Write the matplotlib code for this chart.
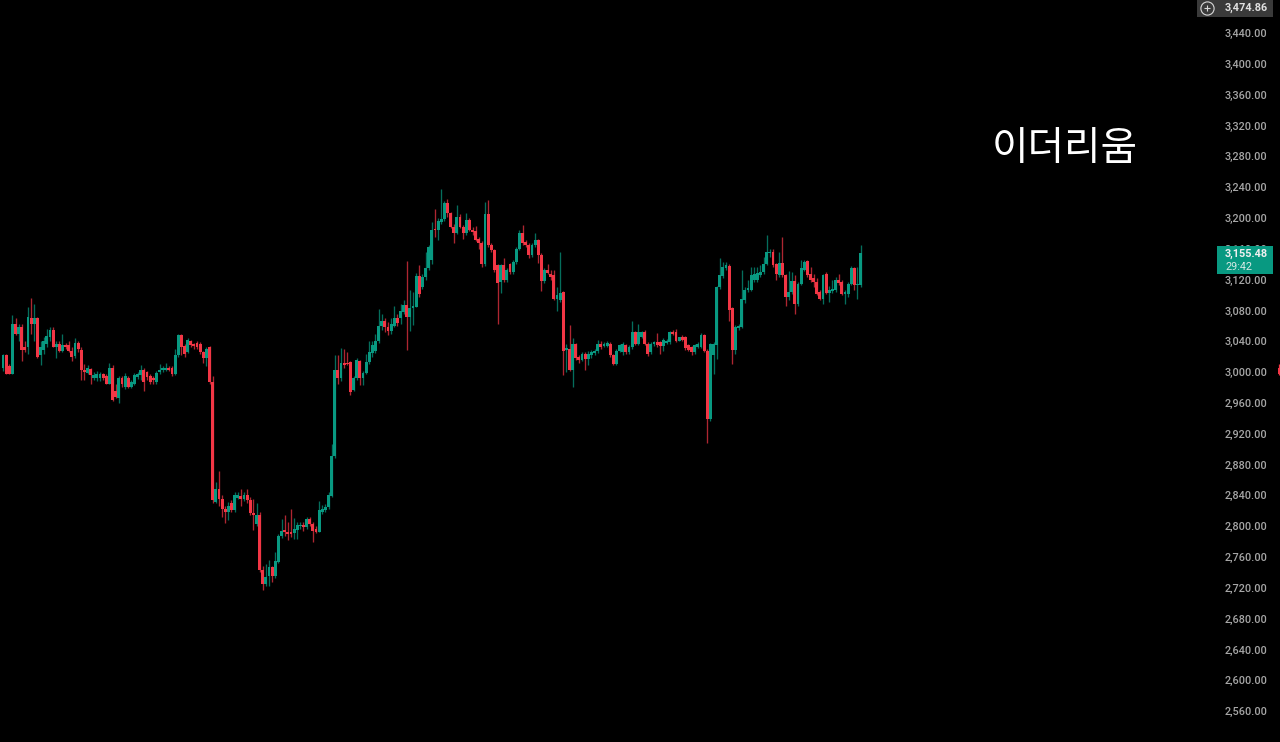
import matplotlib
matplotlib.use("Agg")
import matplotlib.pyplot as plt
from matplotlib.patches import Rectangle

title = "이더리움"
up_color = "#089981"
down_color = "#F23645"

opens = [
 3005,3022,3008,2998,3063,3050,3058,3033,3033,3070,
 3063,3070,3022,3029,3037,3046,3055,3033,3037,3028,
 3035,3035,3028,3021,3038,3029,3003,2999,3004,2993,
 2992,2993,2997,2995,2985,3005,2975,2967,2992,2981,
 2992,2981,2985,2994,2996,3003,3000,2995,2992,2987,
 3000,3003,3003,3006,3006,2998,3022,3048,3034,3026,
 3041,3036,3038,3037,3026,3018,3032,
 2987,2832,2848,2836,2823,2819,2830,2821,2837,2839,
 2836,2840,2834,2817,2803,2815,2743,2725,2735,2747,
 2736,2754,2788,2795,2793,2792,2791,2795,2800,2802,
 2799,2810,2803,2797,2793,2819,2821,2825,2839,2891,
 3003,2992,3012,3012,3013,2977,2992,3014,2992,2999,
 3013,3025,3027,
 3041,3060,3066,3058,3053,3060,3070,
 3070,3078,3087,3072,3083,3085,3125,3110,3124,3135,
 3145,3186,3185,3195,3199,3219,3206,3189,3181,3202,
 3189,3181,3197,3185,3183,3173,3167,3141,3205,3165,
 3158,3139,3117,3139,3119,3140,3130,3143,3160,3180,
 3169,3165,3152,3165,3171,3152,3118,3132,3128,3126,
 3095,3093,3104,3029,3030,3003,3036,3020,3016,3024,
 3017,3022,3025,3027,3037,3034,3034,3037,3022,3011,
 3028,3026,
 3035,3026,3032,3052,3037,3046,3052,3037,3026,3036,
 3039,3039,3034,3038,3039,3052,3052,3041,3046,3046,
 3035,3033,3026,3033,3033,3048,3028,2939,3022,3035,
 3110,3125,3135,3138,3083,3029,3057,3059,3093,3106,
 3107,3119,3119,3126,3130,3141,3154,3156,3140,3126,
 3142,3126,3098,3104,3118,3088,3115,3133,3144,3128,
 3122,3117,3104,3095,3127,3103,3105,3106,3120,3117,
 3102,3102,3115,3135,3113,3113,
]
highs = [
 3024,3024,3010,3074,3070,3062,3062,3040,3085,3096,
 3089,3071,3040,3045,3056,3058,3058,3040,3040,3050,
 3038,3040,3032,3044,3040,3033,3010,3009,3006,3000,
 3001,3000,2999,2997,3012,3009,2985,2995,2995,2999,
 2995,2990,2999,3000,3009,3006,3001,2997,2995,3001,
 3010,3008,3012,3008,3008,3030,3050,3050,3036,3044,
 3042,3038,3040,3039,3028,3033,3034,
 2995,2858,2872,2840,2826,2832,2834,2845,2845,2849,
 2845,2848,2838,2836,2830,2818,2748,2751,2756,2749,
 2767,2790,2810,2814,2806,2822,2811,2805,2806,2806,
 2812,2812,2805,2800,2833,2827,2829,2844,2907,3022,
 3022,3031,3030,3026,3014,2995,3018,3016,3001,3024,
 3041,3041,3050,
 3082,3075,3070,3065,3070,3086,3075,
 3088,3093,3144,3107,3104,3129,3139,3127,3156,3165,
 3195,3212,3200,3238,3222,3225,3208,3192,3217,3205,
 3191,3206,3200,3188,3190,3175,3170,3221,3223,3168,
 3160,3141,3141,3148,3135,3142,3146,3163,3185,3191,
 3172,3167,3168,3180,3173,3154,3135,3140,3133,3133,
 3110,3156,3105,3037,3061,3044,3038,3022,3026,3026,
 3027,3029,3030,3042,3040,3039,3041,3039,3024,3030,
 3037,3039,
 3037,3035,3067,3054,3063,3054,3055,3039,3039,3041,
 3051,3041,3044,3043,3054,3055,3056,3046,3048,3047,
 3036,3034,3037,3039,3051,3050,3030,3038,3039,3112,
 3148,3143,3143,3140,3085,3061,3062,3132,3110,3119,
 3137,3137,3137,3139,3150,3178,3160,3160,3142,3156,
 3176,3128,3131,3130,3126,3117,3145,3145,3146,3136,
 3128,3122,3106,3128,3130,3112,3119,3124,3128,3119,
 3107,3117,3138,3137,3137,3165,
]
lows = [
 3001,2998,2997,2997,3048,3040,3015,3026,3024,3050,
 3040,3019,3009,3024,3033,3040,3032,3018,3026,3026,
 3030,3026,3015,3018,3026,2990,2990,2997,2985,2990,
 2988,2989,2990,2984,2984,2962,2966,2960,2981,2978,
 2979,2979,2983,2991,2990,2975,2990,2984,2985,2985,
 2997,3000,3002,3002,2995,2996,3020,3022,3020,3025,
 3032,3030,3030,3024,3012,3008,2985,
 2830,2830,2826,2812,2804,2808,2818,2819,2835,2826,
 2833,2830,2815,2795,2800,2740,2717,2722,2722,2728,
 2733,2752,2785,2788,2782,2786,2783,2783,2797,2794,
 2797,2800,2779,2791,2792,2816,2818,2823,2838,2889,
 2985,2989,3006,3009,2970,2975,2990,2983,2983,2997,
 3011,3020,3025,
 3038,3055,3052,3048,3050,3058,3060,
 3063,3075,3029,3054,3061,3084,3097,3108,3120,3132,
 3140,3175,3172,3192,3196,3202,3187,3168,3179,3187,
 3173,3178,3183,3178,3170,3160,3137,3138,3163,3156,
 3130,3063,3103,3117,3117,3128,3128,3141,3158,3165,
 3163,3148,3150,3163,3142,3105,3116,3127,3120,3093,
 3080,3091,2996,3000,3001,2981,3016,3012,3014,3003,
 3009,3018,3022,3025,3030,3032,3032,3020,3009,3009,
 3026,3022,
 3024,3024,3030,3035,3035,3044,3035,3021,3024,3034,
 3033,3024,3027,3036,3037,3048,3039,3040,3040,3029,
 3027,3022,3024,3031,3031,3026,2908,2937,2998,3017,
 3108,3122,3133,3067,3011,3024,3055,3057,3090,3104,
 3105,3117,3117,3123,3128,3139,3150,3137,3120,3124,
 3124,3086,3093,3102,3076,3086,3113,3131,3124,3117,
 3110,3100,3093,3089,3101,3091,3103,3104,3113,3100,
 3089,3097,3113,3106,3095,3111,
]
closes = [
 3022,2998,2998,3063,3050,3058,3029,3029,3072,3063,
 3070,3020,3033,3041,3047,3055,3033,3037,3028,3035,
 3033,3028,3020,3038,3030,3003,3000,3006,2996,2996,
 2997,2997,2993,2985,3005,2964,2968,2993,2985,2995,
 2981,2987,2996,2998,3003,2987,2994,2987,2990,2999,
 3003,3005,3005,3003,2998,3022,3048,3033,3024,3042,
 3035,3034,3033,3026,3018,3030,2987,
 2834,2848,2836,2823,2819,2826,2821,2840,2840,2836,
 2841,2834,2817,2815,2815,2743,2725,2734,2747,2736,
 2755,2788,2794,2792,2790,2790,2797,2801,2801,2799,
 2810,2803,2794,2793,2821,2823,2825,2840,2891,3003,
 2992,3012,3009,3011,2974,2992,3016,2992,2999,3013,
 3026,3035,3041,
 3060,3066,3058,3053,3062,3070,3064,
 3080,3087,3072,3083,3086,3125,3102,3124,3135,3162,
 3185,3184,3196,3199,3219,3206,3189,3181,3202,3189,
 3180,3197,3185,3182,3172,3167,3141,3205,3165,3158,
 3132,3116,3139,3119,3132,3130,3143,3160,3180,3167,
 3165,3152,3165,3171,3152,3118,3132,3129,3124,3095,
 3100,3103,3028,3031,3003,3036,3018,3016,3023,3017,
 3024,3026,3028,3037,3033,3037,3038,3022,3011,3028,
 3035,3037,
 3026,3033,3052,3037,3052,3052,3037,3023,3037,3039,
 3035,3034,3042,3041,3052,3050,3041,3045,3042,3031,
 3029,3026,3035,3037,3048,3028,2939,3037,3037,3110,
 3126,3137,3139,3081,3029,3059,3060,3095,3107,3109,
 3126,3127,3129,3130,3141,3156,3156,3139,3128,3142,
 3126,3098,3104,3118,3089,3115,3135,3143,3126,3119,
 3117,3102,3095,3126,3103,3106,3108,3120,3116,3102,
 3104,3115,3135,3113,3115,3155,
]

tick_values = list(range(2560, 3441, 40))
last_price = 3155.48
countdown = "29:42"
top_price = 3474.86
edge_open, edge_high, edge_low, edge_close = [3005], [3010], [2996], [2998]

WIDTH, HEIGHT = 1280, 742
SPACING = 3.13
FIRST_PX = 3.0

fig = plt.figure(figsize=(WIDTH / 100, HEIGHT / 100), dpi=100, facecolor="black")
ax = fig.add_axes([0, 0, 1, 1], facecolor="black")

n = len(opens)
xs = list(range(n))
cols = [up_color if c >= o else down_color for o, c in zip(opens, closes)]
ax.vlines(xs, lows, highs, colors=cols, linewidth=0.95, alpha=0.72, zorder=2)
ax.bar(xs, [abs(c - o) for o, c in zip(opens, closes)],
       bottom=[min(o, c) for o, c in zip(opens, closes)],
       width=0.92, color=cols, linewidth=0, zorder=2.2)

# candle at the right edge of the frame
edge_x = [407.7]
ax.vlines(edge_x, edge_low, edge_high, colors=down_color, linewidth=0.9, zorder=2)
ax.bar(edge_x, [o - c for o, c in zip(edge_open, edge_close)], bottom=edge_close,
       width=0.92, color=down_color, linewidth=0, zorder=2.2)

ax.set_xlim(-FIRST_PX / SPACING, (WIDTH - FIRST_PX) / SPACING)
ax.set_ylim(2520.0, 3483.0)

for s in ax.spines.values():
    s.set_visible(False)
ax.set_xticks([])
ax.set_yticks(tick_values)
ax.set_yticklabels([f"{v:,.2f}" for v in tick_values], fontsize=7.8, family="Roboto",
                   fontweight="medium", color="#a6a6a6", ha="left")
ax.yaxis.tick_right()
ax.tick_params(axis="y", length=0, pad=-39.8)


def px(x, y):
    return x / WIDTH, 1 - y / HEIGHT


def box(x0, y0, x1, y1, color):
    ax.add_patch(Rectangle(px(x0, y1), (x1 - x0) / WIDTH, (y1 - y0) / HEIGHT,
                           transform=ax.transAxes, facecolor=color, edgecolor="none",
                           zorder=5, clip_on=False))


# top price badge
box(1197, 0, 1273, 17, "#3a3a3a")
ax.plot(*px(1207, 7.5), transform=ax.transAxes, marker="o", ms=9.5, mfc="none",
        mec="#d8d8d8", mew=0.8, zorder=6)
ax.plot(*px(1207, 7.5), transform=ax.transAxes, marker="+", ms=5, mec="#d8d8d8",
        mew=0.8, zorder=6)
ax.text(*px(1225, 7.5), f"{top_price:,.2f}", transform=ax.transAxes, fontsize=7.8,
        family="Roboto", fontweight="bold", color="#e0e0e0", va="center", ha="left", zorder=6)

# last price badge
box(1217, 246.5, 1273, 274.5, up_color)
ax.text(*px(1225, 254), f"{last_price:,.2f}", transform=ax.transAxes, fontsize=7.8,
        family="Roboto", fontweight="bold", color="#f0f0f0", va="center", ha="left", zorder=6)
ax.text(*px(1225, 267), countdown, transform=ax.transAxes, fontsize=7.8,
        family="Roboto", color="#d5e9e4", va="center", ha="left", zorder=6)

ax.text(*px(1065, 149), title, transform=ax.transAxes, fontsize=28.6, color="white",
        family=["Noto Sans CJK KR", "DejaVu Sans"], va="center", ha="center", zorder=6)

fig.savefig("out.png", dpi=100, facecolor="black")
